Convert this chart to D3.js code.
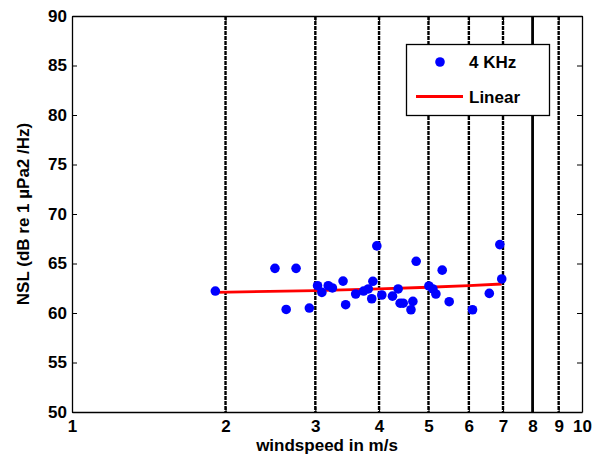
<!DOCTYPE html>
<html><head><meta charset="utf-8">
<script src="https://cdn.jsdelivr.net/npm/d3@7"></script>
<style>body{margin:0;background:#fff}svg{display:block;font-family:"Liberation Sans",Arial,sans-serif;font-weight:bold}</style>
</head><body><svg id="c" width="600" height="457"></svg>
<script>
const windSpeed = [1.91,2.50,2.63,2.75,2.92,3.03,3.09,3.18,3.24,3.40,3.44,3.60,3.73,3.81,3.87,3.89,3.96,4.05,4.25,4.36,4.40,4.46,4.66,4.62,4.73,5.01,5.10,5.17,5.32,5.49,6.10,6.58,6.90,6.96];
const nsl4k = [62.22,64.51,60.36,64.51,60.50,62.76,62.08,62.76,62.53,63.22,60.84,61.92,62.22,62.43,61.44,63.20,66.78,61.82,61.70,62.43,60.99,60.99,61.17,60.33,65.22,62.73,62.43,61.92,64.33,61.14,60.33,61.98,66.91,63.44];
const fitX = [1.91,3,4,5,6,6.96];
const fitY = [62.08,62.26,62.43,62.60,62.77,62.93];
const xTicks = [1,2,3,4,5,6,7,8,9,10];
const yTicks = [50,55,60,65,70,75,80,85,90];
const seriesNames = ["4 KHz","Linear"];

const svg = d3.select("#c");
const L=72,R=582,T=16,B=412;
const x = d3.scaleLog().domain([1,10]).range([L,R]);
const y = d3.scaleLinear().domain([50,90]).range([B,T]);

// grid
svg.append("g").selectAll("line").data(xTicks.slice(1,-1)).join("line")
  .attr("x1",d=>x(d)).attr("x2",d=>x(d)).attr("y1",T).attr("y2",B)
  .attr("stroke","#000").attr("stroke-width",d=>d===8?2.8:2.4)
  .attr("stroke-dasharray",d=>d===8?null:"4,1");

// axes
const fs = 17;
svg.append("g").attr("transform",`translate(${L},0)`)
  .call(d3.axisLeft(y).tickValues(yTicks).tickSizeInner(-5).tickSizeOuter(0).tickPadding(5));
svg.append("g").attr("transform",`translate(${R},0)`)
  .call(d3.axisRight(y).tickValues(yTicks).tickSizeInner(-5).tickSizeOuter(0).tickFormat(""));
svg.append("g").attr("transform",`translate(0,${B})`)
  .call(d3.axisBottom(x).tickValues(xTicks).tickFormat(d3.format("d")).tickSizeInner(-5).tickSizeOuter(0).tickPadding(8));
svg.append("g").attr("transform",`translate(0,${T})`)
  .call(d3.axisTop(x).tickValues(xTicks).tickSizeInner(-5).tickSizeOuter(0).tickFormat(""));
svg.selectAll(".domain").attr("stroke","#000").attr("stroke-width",1.3);
svg.selectAll(".tick line").attr("stroke","#000");
svg.selectAll(".tick text").attr("fill","#000").style("font-size",fs+"px").style("font-weight","bold")
  .style("font-family","'Liberation Sans',Arial,sans-serif");

// titles
svg.append("text").attr("x",(L+R)/2).attr("y",451).attr("text-anchor","middle")
  .style("font-size","17px").text("windspeed in m/s");
svg.append("text").attr("transform",`translate(29,${(T+B)/2}) rotate(-90)`).attr("text-anchor","middle")
  .style("font-size","17px").text("NSL (dB re 1 µPa2 /Hz)");

// fit line
const line = d3.line().x(d=>x(d[0])).y(d=>y(d[1]));
svg.append("path").datum(fitX.map((v,i)=>[v,fitY[i]])).attr("d",line)
  .attr("fill","none").attr("stroke","#ff0000").attr("stroke-width",2.8);

// points
svg.append("g").selectAll("circle").data(windSpeed.map((v,i)=>[v,nsl4k[i]])).join("circle")
  .attr("cx",d=>x(d[0])).attr("cy",d=>y(d[1])).attr("r",4.8).attr("fill","#0000ff");

// legend
const lg = svg.append("g");
lg.append("rect").attr("x",406.5).attr("y",44.5).attr("width",143).attr("height",71)
  .attr("fill","#fff").attr("stroke","#000").attr("stroke-width",1.3);
lg.append("circle").attr("cx",440).attr("cy",62).attr("r",4.8).attr("fill","#0000ff");
lg.append("line").attr("x1",416).attr("x2",463).attr("y1",96.5).attr("y2",96.5).attr("stroke","#ff0000").attr("stroke-width",2.8);
lg.selectAll("text.l").data(seriesNames).join("text").attr("x",469).attr("y",(d,i)=>68+i*35)
  .style("font-size","17px").text(d=>d);
</script></body></html>
